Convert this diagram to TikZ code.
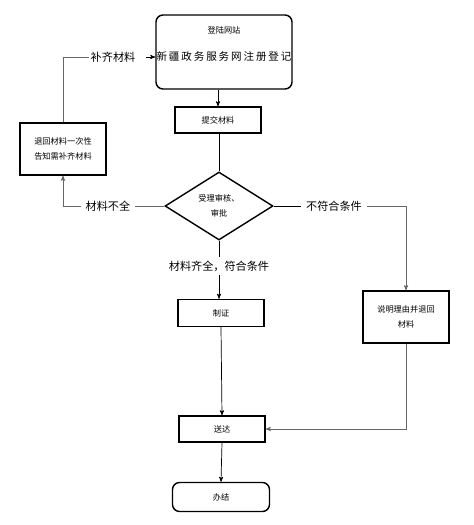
\documentclass[tikz,border=0pt]{standalone}
\usepackage{fontspec}
\setmainfont{Noto Sans CJK SC}
\usetikzlibrary{arrows,shapes.geometric}
\tikzset{
  stepnode/.style = {rectangle, draw=black, line width=1.2pt, align=center,
    inner sep=0pt, font=\fontsize{7}{13}\selectfont},
  roundnode/.style = {stepnode, rounded corners=6pt},
  choicenode/.style = {diamond, draw=black, line width=1.2pt, align=center,
    inner sep=0pt, font=\fontsize{7}{13}\selectfont},
  tagnode/.style = {inner xsep=4pt, inner ysep=3pt, font=\fontsize{9.5}{11}\selectfont},
  flow/.style = {line width=0.6pt},
  sideflow/.style = {line width=0.6pt, draw=black!60}
}
\begin{document}
\begin{tikzpicture}[x=0.03cm,y=-0.03cm,>=stealth']
\useasboundingbox (0,0) rectangle (474,525);
% boxes
\node [roundnode, minimum width=4.08cm, minimum height=2.22cm] (login) at (224,52) {};
\node [font=\fontsize{7}{8}\selectfont] (logintop) at (224,30) {登陆网站};
\node [font=\fontsize{9}{10}\selectfont\addfontfeatures{LetterSpace=18}] (loginsub) at (224,57) {新疆政务服务网注册登记};
\node [stepnode, minimum width=2.58cm, minimum height=0.78cm] (submit) at (218,120) {提交材料};
\node [choicenode, minimum width=3.24cm, minimum height=2.04cm] (check) at (219,206) {受理审核、\\审批};
\node [stepnode, minimum width=2.58cm, minimum height=1.56cm] (back) at (63,149) {退回材料一次性\\告知需补齐材料};
\node [stepnode, minimum width=2.58cm, minimum height=1.56cm] (explain) at (406,317) {说明理由并退回\\材料};
\node [stepnode, minimum width=2.58cm, minimum height=0.81cm] (cert) at (221,313) {制证};
\node [stepnode, minimum width=2.58cm, minimum height=0.78cm] (deliver) at (222,429) {送达};
\node [roundnode, minimum width=2.91cm, minimum height=0.87cm] (done) at (221,497) {办结};
% labels on the lines
\node [tagnode] (lack) at (108,206) {材料不全};
\node [tagnode, inner xsep=1pt] (supply) at (113,57) {补齐材料};
\node [tagnode] (unfit) at (334,206) {不符合条件};
\node [tagnode] (ok) at (219,266) {材料齐全，符合条件};
% connectors
\draw [flow,->] (login.south -| submit.north) -- (submit.north);
\draw [flow] (submit.south -| check.north) -- (check.north);
\draw [sideflow] (check.west) -- (lack.east);
\draw [sideflow,->] (lack.west) -| (back.south);
\draw [sideflow] (back.north) |- (supply.west);
\draw [flow,->] ([xshift=8pt]supply.east) -- (supply.east -| login.west);
\draw [flow] (check.east) -- (unfit.west);
\draw [sideflow,->] (unfit.east) -| (explain.north);
\draw [flow] (check.south) -- (ok.north);
\draw [flow,->] (ok.south) -- (ok.south |- cert.north);
\draw [flow,->] (cert.south) -- (deliver.north);
\draw [sideflow,->] (explain.south) |- (deliver.east);
\draw [flow,->] (deliver.south) -- (done.north);
\end{tikzpicture}
\end{document}
